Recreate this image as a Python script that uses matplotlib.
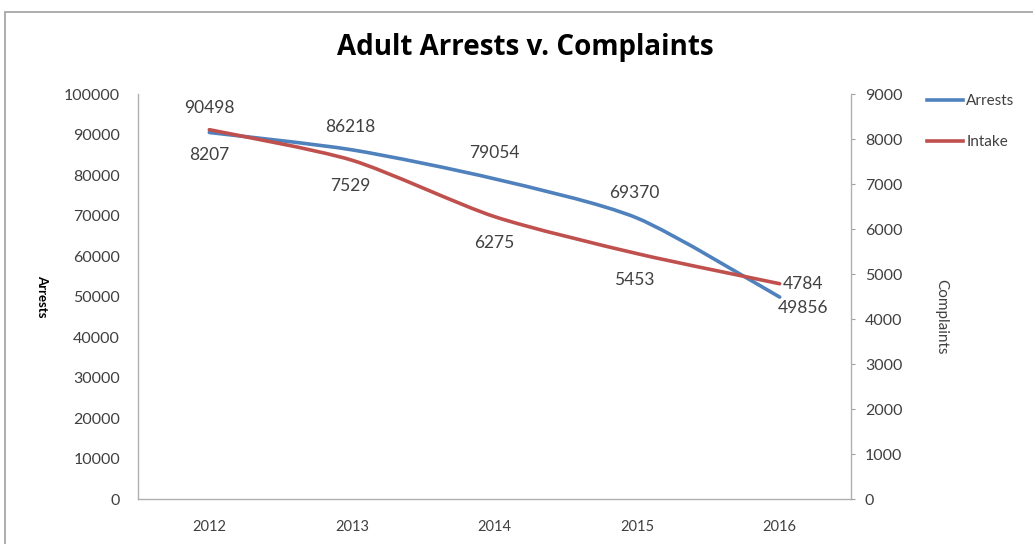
"""Adult arrests vs complaints, Excel-style smoothed dual-axis line chart."""
import numpy as np
import matplotlib
matplotlib.use('Agg')
import matplotlib.pyplot as plt
from matplotlib.path import Path
from matplotlib.patches import PathPatch, Rectangle
from matplotlib.lines import Line2D

years = ['2012', '2013', '2014', '2015', '2016']
arrests = [90498, 86218, 79054, 69370, 49856]
intake = [8207, 7529, 6275, 5453, 4784]

BLUE = '#4F81BD'
RED = '#C0504D'
GRAY = '#404040'
TENSION = 1 / 8.0

plt.rcParams['font.family'] = ['Lato', 'DejaVu Sans']


def smooth_path(xs, ys):
    # smoothed line like Excel: cubic bezier, handles from the neighbours
    pts = np.column_stack([xs, ys]).astype(float)
    verts = [pts[0]]
    codes = [Path.MOVETO]
    n = len(pts)
    for i in range(n - 1):
        p0 = pts[max(i - 1, 0)]
        p1 = pts[i]
        p2 = pts[i + 1]
        p3 = pts[min(i + 2, n - 1)]
        verts += [p1 + (p2 - p0) * TENSION, p2 - (p3 - p1) * TENSION, p2]
        codes += [Path.CURVE4] * 3
    return Path(verts, codes)


fig = plt.figure(figsize=(10.33, 5.44), dpi=100)
fig.patches.append(Rectangle((5 / 1033, -0.1), 1.2, 1.1 - 12 / 544,
                             transform=fig.transFigure, fill=False,
                             edgecolor='#A0A0A0', linewidth=1.2))

ax = fig.add_axes([0.1336, 0.0827, 0.6902, 0.7445])
ax2 = ax.twinx()

x = np.arange(len(years))
ax.add_patch(PathPatch(smooth_path(x, arrests), fill=False, edgecolor=BLUE,
                       linewidth=2.6, capstyle='round', zorder=3))
ax2.add_patch(PathPatch(smooth_path(x, intake), fill=False, edgecolor=RED,
                        linewidth=2.6, capstyle='round', zorder=3))

ax.set_xlim(-0.5, len(years) - 0.5)
ax.set_ylim(0, 100000)
ax2.set_ylim(0, 9000)
ax.set_xticks(x)
ax.set_xticklabels(years)
ax.set_yticks(np.arange(0, 100001, 10000))
ax2.set_yticks(np.arange(0, 9001, 1000))

for a in (ax, ax2):
    for s in a.spines.values():
        s.set_visible(False)
    a.tick_params(colors='#A0A0A0', labelcolor=GRAY, labelsize=11.5, length=3)
ax.spines['left'].set_visible(True)
ax.spines['bottom'].set_visible(True)
ax2.spines['right'].set_visible(True)
for s in (ax.spines['left'], ax.spines['bottom'], ax2.spines['right']):
    s.set_color('#B0B0B0')
    s.set_linewidth(1.0)
ax.tick_params(axis='x', length=0, pad=15, labelsize=10.5)
ax.tick_params(axis='y', length=0, pad=13)
ax2.tick_params(axis='y', pad=7)

ax.set_ylabel('Arrests', rotation=270, fontsize=9.5, fontweight='bold',
              color='black', va='center')
ax.yaxis.set_label_coords(-0.134, 0.5)
ax2.set_ylabel('Complaints', rotation=270, fontsize=11, color=GRAY,
               va='center')
ax2.yaxis.set_label_coords(1.127, 0.45)

# data labels (offsets in points)
arr_off = [(0, 17.5), (-1, 16.5), (0, 18.5), (-2, 18), (17, -8)]
for i, v in enumerate(arrests):
    ax.annotate(str(v), (x[i], v), xytext=arr_off[i], textcoords='offset points',
                ha='center', va='center', fontsize=12.5, color=GRAY)
int_off = [(0, -18), (-1, -18.5), (0, -19), (-2, -19), (17, 0)]
for i, v in enumerate(intake):
    ax2.annotate(str(v), (x[i], v), xytext=int_off[i], textcoords='offset points',
                 ha='center', va='center', fontsize=12.5, color=GRAY)

fig.text(0.5087, 0.912, 'Adult Arrests v. Complaints', ha='center', va='center',
         fontsize=20, fontweight='bold', color='black', family='Open Sans')

handles = [Line2D([], [], color=BLUE, linewidth=2.6),
           Line2D([], [], color=RED, linewidth=2.6)]
fig.legend(handles, ['Arrests', 'Intake'], loc='upper left',
           bbox_to_anchor=(0.897, 1 - 94 / 544), frameon=False, fontsize=11,
           labelcolor=GRAY, handlelength=2.35, handletextpad=0.25,
           labelspacing=1.8, borderpad=0, borderaxespad=0)

fig.savefig('out.png', dpi=100)
